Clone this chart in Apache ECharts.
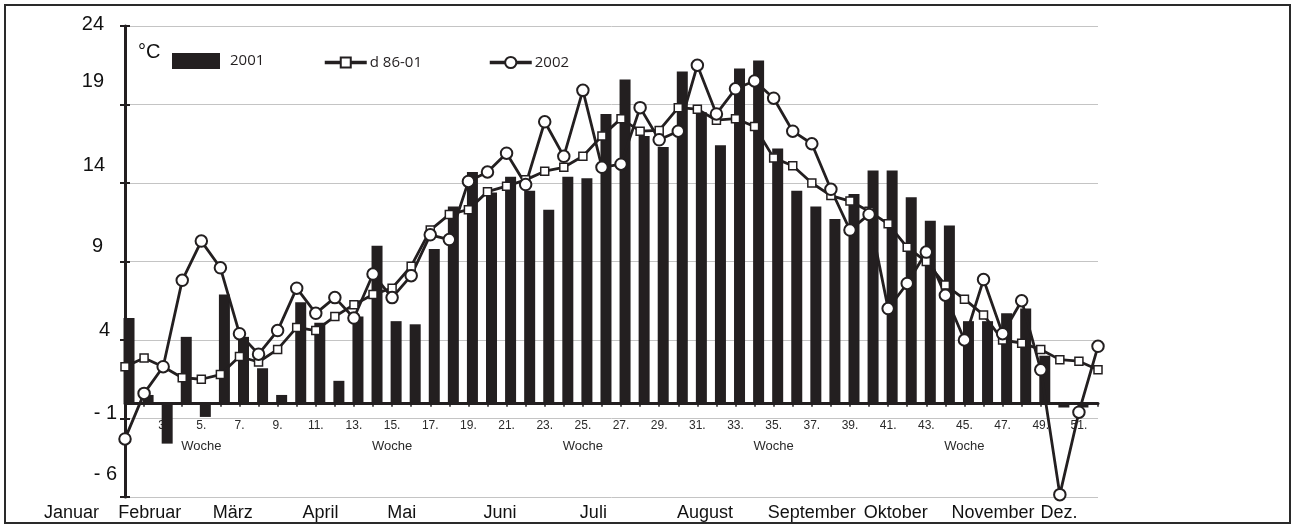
<!DOCTYPE html>
<html><head><meta charset="utf-8">
<script src="https://cdn.jsdelivr.net/npm/echarts@6/dist/echarts.min.js"></script>
<style>html,body{margin:0;padding:0;background:#fff}#c{width:1293px;height:525px}</style>
</head><body><div id="c"></div>
<script>
// ---------- data ----------
const weeks = [1,2,3,4,5,6,7,8,9,10,11,12,13,14,15,16,17,18,19,20,21,22,23,24,25,26,
  27,28,29,30,31,32,33,34,35,36,37,38,39,40,41,42,43,44,45,46,47,48,49,50,51,52];
const t2001 = [5.4,0.5,-2.6,4.2,-0.9,6.9,4.2,2.2,0.5,6.4,5.1,1.4,5.5,10.0,5.2,5.0,9.8,12.5,14.7,13.4,
  14.4,13.5,12.3,14.4,14.3,18.4,20.6,17.0,16.3,21.1,18.5,16.4,21.3,21.8,16.2,13.5,12.5,11.7,13.3,14.8,
  14.8,13.1,11.6,11.3,5.2,5.2,5.7,6.0,3.0,-0.3,-0.3,null];
const t8601 = [2.3,2.85,2.3,1.6,1.5,1.8,2.95,2.6,3.4,4.8,4.6,5.5,6.25,6.9,7.3,8.7,11.0,12.0,12.3,13.45,
  13.8,14.2,14.75,15.0,15.7,17.0,18.1,17.3,17.35,18.8,18.7,18.0,18.1,17.6,15.6,15.1,14.0,13.2,12.85,12.2,
  11.4,9.9,9.0,7.5,6.6,5.6,4.0,3.8,3.4,2.75,2.65,2.1];
const t2002 = [-2.3,0.6,2.3,7.8,10.3,8.6,4.4,3.1,4.6,7.3,5.7,6.7,5.4,8.2,6.7,8.1,10.7,10.4,14.1,14.7,
  15.9,13.9,17.9,15.7,19.9,15.0,15.2,18.8,16.75,17.3,21.5,18.4,20.0,20.5,19.4,17.3,16.5,13.6,11.0,12.0,
  6.0,7.6,9.6,6.85,4.0,7.85,4.4,6.5,2.1,-5.85,-0.6,3.6];
const yTickLabels = ['- 6','- 1','4','9','14','19','24'];
const months = ['Januar','Februar','März','April','Mai','Juni','Juli','August','September','Oktober','November','Dez.'];
const monthWeek = [-1.8,2.3,6.65,11.25,15.5,20.65,25.55,31.4,37.0,41.4,46.5,49.95];
const wocheWeeks = [5,15,25,35,45];
const seriesNames = ['2001','d 86-01','2002'];

// ---------- layout / style ----------
const W = 1293, H = 525, L = 125, R = 195, T = 26, B = 28;
const Y_MIN = -6, Y_MAX = 24, Y_STEP = 5;
const INK = '#231f20';
const ARIAL = 'Liberation Sans, Arial, sans-serif';
const step = (W - L - R) / (weeks.length - 1);
const zeroOffset = -(H - T - B) * (0 - Y_MIN) / (Y_MAX - Y_MIN);
// [padding right, shift up] for each y label (from -6 to 24)
const Y_LABEL_SHIFT = [[0,23],[0,4.8],[7,9.7],[14,15.5],[12,18],[13,23.2],[13,1.8]];
const yRich = {};
Y_LABEL_SHIFT.forEach((s, i) => {
  yRich['l' + i] = {fontSize: 20, fontFamily: ARIAL, color: '#111', padding: [0, s[0], 2 * s[1], 0]};
});

const chart = echarts.init(document.getElementById('c'), null, {renderer: 'canvas'});
chart.setOption({
  animation: false,
  backgroundColor: '#fff',
  grid: [
    {left: L, right: R, top: T, bottom: B, containLabel: false, outerBoundsMode: 'none'},
    {left: 0, right: 0, top: T, bottom: B, containLabel: false, outerBoundsMode: 'none'}
  ],
  legend: [
    {data: [seriesNames[0]], left: 172, top: 53, padding: 0, icon: 'rect', itemWidth: 48, itemHeight: 16,
     textStyle: {fontFamily: 'Open Sans', fontSize: 15, color: INK, padding: [0,0,0,5]}},
    {data: [seriesNames[1]], left: 323, top: 55, padding: 0, itemWidth: 42, itemHeight: 12.5,
     lineStyle: {width: 3.5, color: INK},
     textStyle: {fontFamily: 'Open Sans', fontSize: 15, color: INK, padding: [0,0,0,-2]}},
    {data: [seriesNames[2]], left: 488, top: 55, padding: 0, itemWidth: 42, itemHeight: 14,
     lineStyle: {width: 3.5, color: INK},
     textStyle: {fontFamily: 'Open Sans', fontSize: 15, color: INK, padding: [0,0,0,-2]}}
  ],
  xAxis: [
    {type: 'category', gridIndex: 0, data: weeks, boundaryGap: false, position: 'bottom', offset: zeroOffset,
     axisLine: {onZero: false, lineStyle: {color: INK, width: 3}},
     axisTick: {show: true, interval: 0, length: 4, lineStyle: {color: INK, width: 1.5}},
     splitLine: {show: false},
     axisLabel: {
       interval: (idx) => idx % 2 === 0 && idx >= 2,
       margin: 15,
       hideOverlap: false,
       formatter: (v) => wocheWeeks.indexOf(Number(v)) >= 0 ? '{n|' + v + '.}\n{w|Woche}' : '{n|' + v + '.}',
       rich: {
         n: {fontSize: 12, fontFamily: ARIAL, color: '#2a2a2a', lineHeight: 16},
         w: {fontSize: 13, fontFamily: ARIAL, color: '#2a2a2a', lineHeight: 26}
       }
     }},
    {type: 'value', gridIndex: 1, position: 'bottom',
     min: 1 - L / step, max: weeks.length + R / step,
     axisLine: {show: false}, axisTick: {show: false}, splitLine: {show: false},
     axisLabel: {customValues: monthWeek, margin: 7, fontSize: 18, fontFamily: ARIAL, color: '#111',
       formatter: (v) => { const i = monthWeek.findIndex(m => Math.abs(m - v) < 1e-6); return i >= 0 ? months[i] : ''; }}}
  ],
  yAxis: [
    {type: 'value', gridIndex: 0, position: 'left', min: Y_MIN, max: Y_MAX, interval: Y_STEP,
     name: '°C', nameLocation: 'end', nameGap: -26,
     nameTextStyle: {fontSize: 20, fontFamily: ARIAL, color: '#111', align: 'left', verticalAlign: 'middle', padding: [0,0,0,13]},
     axisLine: {show: true, onZero: false, lineStyle: {color: INK, width: 3}},
     axisTick: {show: true, length: 5, lineStyle: {color: INK, width: 2}},
     splitLine: {show: true, lineStyle: {color: '#c4c4c4', width: 1}},
     axisLabel: {margin: 8,
       formatter: (v) => { const i = Math.round((v - Y_MIN) / Y_STEP); return '{l' + i + '|' + yTickLabels[i] + '}'; },
       rich: yRich}},
    {type: 'value', gridIndex: 0, position: 'left', min: Y_MIN, max: Y_MAX, interval: Y_STEP,
     axisLine: {show: false, onZero: false}, axisLabel: {show: false}, splitLine: {show: false},
     axisTick: {show: true, inside: true, length: 5, lineStyle: {color: INK, width: 2}}},
    {type: 'value', gridIndex: 1, show: false, min: 0, max: 1}
  ],
  series: [
    {type: 'bar', name: '_offset', xAxisIndex: 0, yAxisIndex: 0, data: [], barWidth: 11, barGap: '-27%'},
    {type: 'bar', name: seriesNames[0], xAxisIndex: 0, yAxisIndex: 0, data: t2001, barWidth: 11, barGap: '-27%',
     itemStyle: {color: INK}},
    {type: 'line', name: seriesNames[1], xAxisIndex: 0, yAxisIndex: 0, data: t8601,
     symbol: 'rect', symbolSize: 8, showAllSymbol: true,
     lineStyle: {color: INK, width: 2.8},
     itemStyle: {color: '#fff', borderColor: INK, borderWidth: 1.5}},
    {type: 'line', name: seriesNames[2], xAxisIndex: 0, yAxisIndex: 0, data: t2002,
     symbol: 'circle', symbolSize: 11.5, showAllSymbol: true,
     lineStyle: {color: INK, width: 2.8},
     itemStyle: {color: '#fff', borderColor: INK, borderWidth: 2}}
  ],
  graphic: [
    {type: 'rect', shape: {x: 5, y: 5, width: 1285, height: 518}, silent: true, z: 100,
     style: {fill: 'none', stroke: '#2a2a2a', lineWidth: 2}}
  ]
});
</script></body></html>
